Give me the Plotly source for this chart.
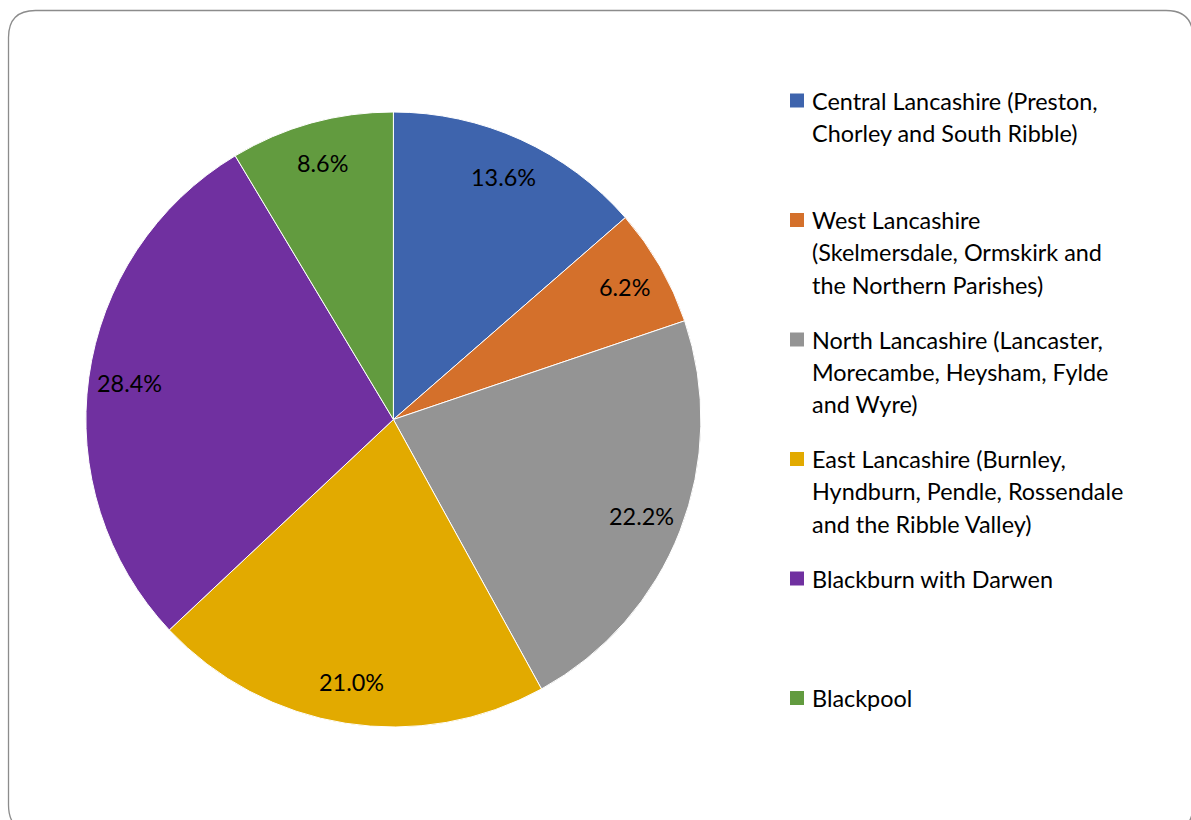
import math
import plotly.graph_objects as go

# Share of cases by area (percent), clockwise from 12 o'clock
areas = [
    "Central Lancashire (Preston, Chorley and South Ribble)",
    "West Lancashire (Skelmersdale, Ormskirk and the Northern Parishes)",
    "North Lancashire (Lancaster, Morecambe, Heysham, Fylde and Wyre)",
    "East Lancashire (Burnley, Hyndburn, Pendle, Rossendale and the Ribble Valley)",
    "Blackburn with Darwen",
    "Blackpool",
]
shares = [13.6, 6.2, 22.2, 21.0, 28.4, 8.6]
colors = ["#3E64AD", "#D4702B", "#949494", "#E2AA00", "#7030A0", "#629B3F"]

# Legend text, wrapped to the legend column width
legend_lines = [
    ["Central Lancashire (Preston,", "Chorley and South Ribble)"],
    ["West Lancashire", "(Skelmersdale, Ormskirk and", "the Northern Parishes)"],
    ["North Lancashire (Lancaster,", "Morecambe, Heysham, Fylde", "and Wyre)"],
    ["East Lancashire (Burnley,", "Hyndburn, Pendle, Rossendale", "and the Ribble Valley)"],
    ["Blackburn with Darwen"],
    ["Blackpool"],
]

W, H = 1191, 820
FONT = "Lato"
TEXT_SIZE = 23.4

# Pie geometry in pixels
cx, cy, R = 393.4, 419.5, 307.5

fig = go.Figure(
    go.Pie(
        labels=areas,
        values=shares,
        sort=False,
        direction="clockwise",
        rotation=0,
        textinfo="none",
        hoverinfo="label+percent",
        marker=dict(colors=colors, line=dict(color="#FFFFFF", width=1)),
        domain=dict(
            x=[(cx - R) / W, (cx + R) / W],
            y=[(H - cy - R) / H, (H - cy + R) / H],
        ),
        showlegend=False,
    )
)

annotations = []
shapes = []

# Data labels placed inside each slice along its mid-angle
total = sum(shares)
cum = 0.0
for v in shares:
    mid = (cum + v / 2) / total * 2 * math.pi
    cum += v
    r = 0.865 * R
    px = cx + r * math.sin(mid)
    py = cy - r * math.cos(mid)
    annotations.append(
        dict(
            x=px / W, y=1 - py / H, xref="paper", yref="paper",
            text=f"{v:.1f}%", showarrow=False,
            xanchor="center", yanchor="middle",
            font=dict(family=FONT, size=TEXT_SIZE, color="#000000"),
        )
    )

# Legend: square swatch plus wrapped text, fixed slot per entry
leg_x_box = 790
leg_box = 14
leg_x_text = 810
first_y = 100.5
slot = 119.5
line_gap = 32.3
for i, (lines, col) in enumerate(zip(legend_lines, colors)):
    y0 = first_y + i * slot
    shapes.append(
        dict(
            type="rect", xref="paper", yref="paper",
            x0=leg_x_box / W, x1=(leg_x_box + leg_box) / W,
            y0=1 - (y0 + leg_box / 2) / H, y1=1 - (y0 - leg_box / 2) / H,
            fillcolor=col, line=dict(width=0),
        )
    )
    for j, ln in enumerate(lines):
        ly = y0 + j * line_gap
        annotations.append(
            dict(
                x=leg_x_text / W, y=1 - ly / H, xref="paper", yref="paper",
                text=ln, showarrow=False,
                xanchor="left", yanchor="middle",
                font=dict(family=FONT, size=TEXT_SIZE, color="#000000"),
            )
        )

# Rounded outer frame
def px2paper(x, y):
    return x / W, 1 - y / H

L, T, Rr, B, rad = 8.5, 10.5, 1193.0, 832.0, 27.0

def P(x, y):
    a, b = px2paper(x, y)
    return f"{a:.5f},{b:.5f}"

path = (
    f"M {P(L + rad, T)} L {P(Rr - rad, T)} Q {P(Rr, T)} {P(Rr, T + rad)} "
    f"L {P(Rr, B - rad)} Q {P(Rr, B)} {P(Rr - rad, B)} "
    f"L {P(L + rad, B)} Q {P(L, B)} {P(L, B - rad)} "
    f"L {P(L, T + rad)} Q {P(L, T)} {P(L + rad, T)} Z"
)
shapes.append(
    dict(type="path", xref="paper", yref="paper", path=path,
         line=dict(color="#8C8C8C", width=1.3), fillcolor="rgba(0,0,0,0)")
)

fig.update_layout(
    width=W, height=H,
    margin=dict(l=0, r=0, t=0, b=0),
    paper_bgcolor="#FFFFFF",
    plot_bgcolor="#FFFFFF",
    annotations=annotations,
    shapes=shapes,
    font=dict(family=FONT),
)

fig.write_html("out.html", config={"displayModeBar": False})
